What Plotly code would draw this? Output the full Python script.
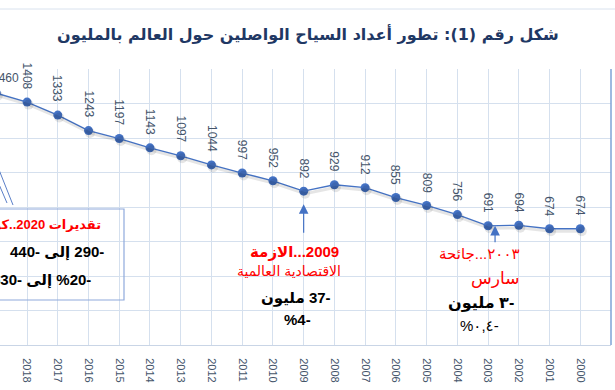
import plotly.graph_objects as go

# ---------------- data ----------------
years = [2019, 2018, 2017, 2016, 2015, 2014, 2013, 2012, 2011, 2010,
         2009, 2008, 2007, 2006, 2005, 2004, 2003, 2002, 2001, 2000]
arrivals = [1460, 1408, 1333, 1243, 1197, 1143, 1097, 1044, 997, 952,
            892, 929, 912, 855, 809, 756, 691, 694, 674, 674]
tick_years = list(range(2018, 1998, -1))
tick_labels = [str(y) for y in tick_years]

title_text = "شكل رقم (1): تطور أعداد السياح الواصلين حول العالم بالمليون"

LRM = "\u200E"

# ---------------- geometry helpers ----------------
W, H = 615, 390
ML, MR, MT, MB = 0, 4, 69, 45
PW, PH = W - ML - MR, H - MT - MB
X0, X1 = 2018.88, 1999
Y0, Y1 = 0, 1600


def px(x):
    return (x - ML) / PW


def py(y):
    return (H - MB - y) / PH


FAM = "Liberation Sans, DejaVu Sans, sans-serif"
BLUE = "#4472C4"
GRID = "#D5E0EE"
LABEL = "#44546A"

fig = go.Figure()

# soft shadow of the series (same data on slightly offset overlay axes)
fig.add_trace(go.Scatter(
    x=years, y=arrivals, mode="lines+markers",
    line=dict(color="rgba(0,0,0,0.10)", width=3),
    marker=dict(size=10, color="rgba(0,0,0,0.10)"),
    xaxis="x2", yaxis="y2", hoverinfo="skip"))

fig.add_trace(go.Scatter(
    x=years, y=arrivals, mode="lines+markers",
    line=dict(color=BLUE, width=1.3),
    marker=dict(size=9, color=BLUE)))

ann = []
# data labels
for yr, v in zip(years, arrivals):
    if yr == 2019:
        ann.append(dict(x=px(-3.7), y=v, xref="paper", yref="y", text=str(v),
                        showarrow=False, xanchor="center", yanchor="bottom",
                        xshift=9, yshift=6, font=dict(family=FAM, size=12, color=LABEL)))
    else:
        ann.append(dict(x=yr, y=v, xref="x", yref="y", text=str(v), textangle=90,
                        showarrow=False, xanchor="center", yanchor="bottom",
                        yshift=11, font=dict(family=FAM, size=12, color=LABEL)))

# title
ann.append(dict(x=px(308), y=py(34), xref="paper", yref="paper",
                text="<b>" + title_text + "</b>", showarrow=False,
                xanchor="center", yanchor="middle",
                font=dict(family="DejaVu Sans, sans-serif", size=16, color="#1F3864")))


def T(text, x, y, anchor="center", size=13, color="black", bold=False):
    t = "<b>" + text + "</b>" if bold else text
    ann.append(dict(x=px(x), y=py(y), xref="paper", yref="paper", text=t,
                    showarrow=False, xanchor=anchor, yanchor="middle",
                    font=dict(family=FAM, size=size, color=color)))


RED = "#FF0000"
# covid box
T("تقديرات 2020..كوفيد", 103, 224, "right", 13, RED, True)
T("440- إلى" + LRM + " 290-", 106, 252, "right", 15, "black", True)
T("%30- إلى" + LRM + " %20-", 93, 280, "right", 15, "black", True)

# 2009 block
T("الازمة" + LRM + "...2009", 294, 252, "center", 15, RED, True)
T("الاقتصادية العالمية", 289, 271, "center", 14, RED, False)
T("مليون" + LRM + " 37-", 296, 298, "center", 15, "black", True)
T("%4-", 297, 319, "center", 15, "black", True)

# 2003 block
T("جائحة" + LRM + "...٢٠٠٣", 480, 253, "center", 15, RED, False)
T("سارس", 495, 278, "center", 17, RED, False)
T("مليون" + LRM + " ٣-", 481, 303, "center", 16, "black", True)
T("%٠,٤-", 479, 325, "center", 15, "black", False)

# arrows
ann.append(dict(x=2009, y=892, xref="x", yref="y", text="", showarrow=True,
                ax=0, ay=43, standoff=13, arrowhead=2, arrowsize=1.6,
                arrowwidth=1.2, arrowcolor=BLUE))
ann.append(dict(x=2003, y=691, xref="x", yref="y", text="", showarrow=True,
                ax=0, ay=18, standoff=0, xshift=7, arrowhead=2, arrowsize=1.6,
                arrowwidth=1.2, arrowcolor=BLUE))

shapes = [
    # covid box
    dict(type="rect", xref="paper", yref="paper", x0=px(-20), x1=px(124),
         y0=py(300), y1=py(209), line=dict(color="#8FAADC", width=1.2)),
    # leader lines from the box
    dict(type="line", xref="paper", yref="paper", x0=px(13), y0=py(205),
         x1=px(-20), y1=py(122), line=dict(color="#5B7FC7", width=1)),
    dict(type="line", xref="paper", yref="paper", x0=px(7), y0=py(203),
         x1=px(-8), y1=py(168), line=dict(color="#5B7FC7", width=1)),
    # right border of plot
    dict(type="line", xref="paper", yref="paper", x0=1, x1=1, y0=0, y1=1,
         line=dict(color="#7FA3D6", width=1.5)),
    # chart-area top border
    dict(type="line", xref="paper", yref="paper", x0=px(0), x1=px(615),
         y0=py(9), y1=py(9), line=dict(color="#D9E2EE", width=1)),
]

fig.update_layout(
    width=W, height=H,
    margin=dict(l=ML, r=MR, t=MT, b=MB),
    paper_bgcolor="white", plot_bgcolor="white",
    showlegend=False,
    xaxis=dict(range=[X0, X1], tickmode="array", tickvals=tick_years,
               ticktext=tick_labels, tickangle=90, showgrid=True,
               gridcolor=GRID, gridwidth=1, zeroline=False,
               showline=True, linecolor="#C9D5E6", linewidth=1,
               ticks="", ticklabelstandoff=10,
               tickfont=dict(family=FAM, size=11, color=LABEL)),
    yaxis=dict(range=[Y0, Y1], dtick=200, showgrid=True, gridcolor=GRID,
               zeroline=False, showticklabels=False, showline=False),
    xaxis2=dict(range=[X0 + 1.5 / 30.73, X1 + 1.5 / 30.73], overlaying="x",
                visible=False),
    yaxis2=dict(range=[Y0 + 2.5 / 0.1725, Y1 + 2.5 / 0.1725], overlaying="y",
                visible=False),
    annotations=ann,
    shapes=shapes,
)

fig.write_html("out.html",
               config={"displayModeBar": False},
               post_script="document.body.style.margin='0';"
                           "document.body.style.overflow='hidden';")
